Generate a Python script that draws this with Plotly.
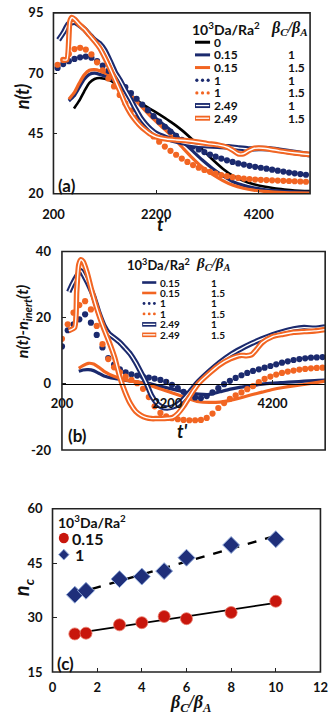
import numpy as np
import plotly.graph_objects as go

W, H = 336, 725
NAVY = "#1b2a6e"
ORANGE = "#f26522"
RED = "#c8160c"
DIAMOND = "#1f2f7a"
FONT = "Lato"
SERIF = "Liberation Serif"

# ---- panel (a): n(t) vs t'
T_BLACK = [600, 700, 800, 900, 1000, 1100, 1300, 1500, 1700, 1900, 2100, 2300, 2500,
           2700, 2900, 3100, 3300, 3500, 3700, 3900, 4100, 4300, 4500, 4700, 4900, 5200]
N_BLACK = [55.4, 58.5, 62.5, 66.0, 67.6, 68.0, 67.0, 64.2, 60.8, 57.6, 55.0, 52.4, 49.6,
           46.4, 42.6, 38.4, 34.2, 30.4, 27.4, 25.4, 24.0, 23.0, 22.3, 21.8, 21.4, 21.1]

T_SOLID_A = [500, 600, 700, 800, 900, 1000, 1100, 1300, 1500, 1700, 1900, 2100, 2300, 2500,
             2700, 2900, 3100, 3300, 3500, 3700, 3900, 4100, 4300, 4500, 4700, 4900, 5200]
N_NAVY_015_A = [58.5, 60.5, 64.0, 67.5, 69.5, 70.0, 69.5, 68.0, 65.0, 61.0, 57.0, 53.0, 49.5, 46.0,
                42.0, 38.0, 34.0, 30.5, 27.5, 25.0, 23.5, 22.5, 21.8, 21.3, 21.0, 20.8, 20.7]
N_ORANGE_015_A = [59.2, 61.8, 65.8, 69.3, 71.2, 71.5, 71.0, 69.0, 65.5, 61.0, 56.5, 52.0, 48.0, 44.0,
                  39.5, 35.0, 31.0, 28.0, 25.5, 23.5, 22.3, 21.5, 21.0, 20.7, 20.5, 20.4, 20.3]

T_DOT_A = [280, 390, 500, 610, 720, 830, 940, 1050, 1160, 1270, 1380, 1490, 1600, 1710, 1820,
           1930, 2040, 2150, 2260, 2370, 2480, 2590, 2700, 2810, 2920, 3030, 3140, 3250, 3360,
           3470, 3580, 3690, 3800, 3910, 4020, 4130, 4240, 4350, 4460, 4570, 4680, 4790, 4900,
           5010, 5120]
N_NAVY_1_A = [72.2, 73.8, 75.0, 75.9, 76.6, 76.9, 76.4, 75.0, 73.2, 71.0, 68.8, 66.5, 64.2, 61.8,
              59.4, 57.0, 54.6, 52.2, 49.9, 47.8, 45.8, 44.0, 42.4, 40.9, 39.6, 38.4, 37.3, 36.3,
              35.4, 34.6, 33.9, 33.2, 32.6, 32.1, 31.6, 31.2, 30.8, 30.4, 30.0, 29.6, 29.2, 28.8,
              28.5, 28.2, 27.9]
N_ORANGE_1_A = [73.5, 75.5, 78.0, 80.0, 80.5, 79.8, 77.8, 74.5, 71.2, 67.8, 64.5, 61.0, 57.5, 54.5,
                51.5, 48.8, 46.2, 43.8, 41.6, 39.6, 37.8, 36.2, 34.6, 33.2, 31.9, 30.8, 29.9, 29.1,
                28.4, 27.8, 27.3, 26.9, 26.6, 26.3, 26.1, 25.9, 25.8, 25.7, 25.6, 25.5, 25.4, 25.3,
                25.2, 25.1, 25.0]

T_NAVY_249_A = [300, 400, 490, 610, 700, 800, 900, 1000, 1100, 1200, 1300, 1400, 1500, 1600, 1700,
                1800, 1900, 2000, 2100, 2200, 2400, 2600, 2800, 3000, 3200, 3400, 3600, 3800, 4000,
                4200, 4400, 4600, 4800, 5000, 5200]
N_NAVY_249_A = [83.8, 87.0, 90.4, 91.1, 90.0, 88.3, 86.0, 83.8, 82.3, 79.5, 75.2, 70.5, 67.0, 63.0,
                59.2, 55.2, 51.5, 48.8, 46.6, 45.0, 43.2, 41.8, 40.8, 40.2, 39.9, 39.7, 39.5, 39.0,
                38.6, 38.8, 38.7, 38.1, 37.4, 36.8, 36.2]
T_ORANGE_249_A = [380, 460, 520, 560, 620, 700, 800, 900, 1000, 1100, 1200, 1300, 1400, 1500, 1600,
                  1700, 1800, 1900, 2000, 2100, 2200, 2400, 2600, 2800, 3000, 3200, 3400, 3600, 3700,
                  3800, 3900, 4000, 4100, 4200, 4400, 4600, 4800, 5000, 5200]
N_ORANGE_249_A = [75.5, 75.6, 91.5, 93.1, 92.2, 90.3, 88.3, 85.8, 83.3, 80.5, 76.5, 72.0, 67.2, 62.3,
                  57.2, 53.3, 50.4, 48.0, 46.2, 44.6, 43.6, 42.7, 42.3, 42.0, 41.5, 40.8, 40.3, 39.2,
                  38.0, 36.6, 36.6, 37.8, 38.8, 39.0, 38.6, 37.8, 37.2, 36.7, 36.3]

# ---- panel (b): n(t) - n_inert(t)
T_SOLID_B = [520, 600, 700, 800, 900, 1000, 1200, 1400, 1600, 1800, 2000, 2200, 2400, 2600,
             2800, 3000, 3200, 3400, 3600, 3800, 4000, 4200, 4400, 4600, 4800, 5000, 5200]
V_NAVY_015_B = [3.8, 4.2, 4.3, 4.0, 3.2, 2.4, 1.6, 1.1, 0.6, 0.3, -0.5, -1.2, -2.0, -2.7,
                -3.1, -3.2, -2.4, -1.6, -1.0, -0.6, -0.1, 0.2, 0.4, 0.6, 0.8, 1.0, 1.1]
V_ORANGE_015_B = [4.7, 5.5, 6.2, 6.0, 5.0, 3.8, 2.2, 1.2, 0.6, 0.0, -1.2, -2.2, -3.3, -4.5,
                  -5.4, -5.6, -5.5, -5.0, -4.2, -3.3, -2.5, -1.7, -1.1, -0.6, -0.2, 0.3, 0.8]

T_DOT_B = [200, 310, 420, 530, 640, 750, 860, 970, 1080, 1190, 1300, 1410, 1520, 1630, 1740,
           1850, 1960, 2070, 2180, 2290, 2400, 2510, 2620, 2730, 2840, 2950, 3060, 3170, 3280,
           3390, 3500, 3610, 3720, 3830, 3940, 4050, 4160, 4270, 4380, 4490, 4600, 4710, 4820,
           4930, 5040, 5150]
V_NAVY_1_B = [11.3, 16.2, 18.0, 19.5, 21.0, 18.5, 14.8, 11.0, 7.8, 5.8, 4.4, 3.5, 2.9, 2.5, 2.2,
              1.9, 1.6, 1.2, 0.6, -0.3, -1.3, -2.4, -3.4, -4.1, -4.3, -3.7, -2.6, -1.3, -0.1, 0.9,
              1.8, 2.6, 3.3, 3.9, 4.4, 4.9, 5.4, 5.9, 6.4, 6.8, 7.2, 7.5, 7.7, 7.9, 8.0, 8.1]
V_ORANGE_1_B = [13.6, 18.0, 21.5, 23.8, 25.0, 22.5, 17.5, 12.0, 7.5, 5.0, 3.5, 2.2, 1.2, 0.2, -1.5,
                -4.0, -6.8, -8.8, -9.8, -10.4, -10.7, -10.9, -11.0, -11.0, -10.9, -10.3, -9.0, -7.3,
                -5.8, -4.5, -3.5, -2.6, -1.6, -0.7, 0.5, 1.5, 2.2, 2.8, 3.3, 3.7, 4.0, 4.3, 4.5, 4.7,
                4.8, 4.9]

T_NAVY_249_B = [330, 400, 480, 560, 640, 720, 800, 900, 1000, 1100, 1200, 1300, 1400, 1500, 1600,
                1700, 1800, 1900, 2000, 2100, 2200, 2300, 2400, 2500, 2600, 2700, 2800, 3000, 3200,
                3400, 3600, 3800, 4000, 4200, 4400, 4600, 4800, 5000, 5200]
V_NAVY_249_B = [27.8, 30.2, 32.5, 34.2, 32.0, 29.5, 26.5, 21.5, 17.5, 15.0, 13.8, 12.5, 10.8, 9.0,
                6.5, 3.5, 0.3, -3.5, -5.8, -7.0, -7.3, -7.0, -6.2, -4.8, -3.0, -1.0, 0.8, 3.8, 6.5,
                8.8, 10.6, 12.2, 13.6, 14.8, 15.8, 16.6, 17.0, 16.8, 17.2]
T_ORANGE_249_B = [330, 440, 480, 520, 560, 600, 680, 760, 840, 920, 1000, 1100, 1200, 1300, 1400,
                  1500, 1600, 1700, 1800, 1900, 2000, 2100, 2200, 2300, 2400, 2500, 2600, 2700, 2800,
                  3000, 3200, 3400, 3600, 3700, 3800, 3900, 4000, 4200, 4400, 4600, 4800, 5000, 5200]
V_ORANGE_249_B = [16.1, 17.0, 28.0, 36.0, 37.5, 37.0, 33.5, 28.5, 24.0, 20.0, 16.5, 12.5, 8.0, 2.0,
                  -2.5, -6.0, -8.3, -9.5, -10.2, -10.5, -10.5, -10.5, -10.4, -10.2, -9.0, -7.0, -4.5,
                  -2.0, 0.2, 3.2, 5.8, 7.6, 8.6, 8.5, 8.8, 10.5, 12.4, 14.3, 15.0, 15.6, 15.8, 16.0,
                  16.4]

# ---- panel (c): n_c vs beta_C/beta_A
RATIO = [1, 1.5, 3, 4, 5, 6, 8, 10]
NC_015 = [25.5, 25.7, 28.0, 28.6, 30.3, 29.7, 31.4, 34.5]
NC_1 = [36.3, 37.4, 40.6, 41.3, 42.8, 46.5, 50.0, 51.6]

X_TICKS_T = [200, 2200, 4200]
LEGEND_A = [("0", ""), ("0.15", "1"), ("0.15", "1.5"), ("1", "1"), ("1", "1.5"),
            ("2.49", "1"), ("2.49", "1.5")]


def px(x):
    return x / W


def py(y):
    return 1 - y / H


def box(left, top, right, bottom):
    return [px(left), px(right)], [py(bottom), py(top)]


fig = go.Figure()


def solid(x, y, color, width, ax):
    fig.add_trace(go.Scatter(x=x, y=y, mode="lines", xaxis="x" + ax, yaxis="y" + ax,
                             line=dict(color=color, width=width, shape="spline", smoothing=0.6),
                             hoverinfo="skip"))


def double(x, y, color, ax):
    solid(x, y, color, 5.5, ax)
    solid(x, y, "white", 1.4, ax)


def dots(x, y, color, ax):
    fig.add_trace(go.Scatter(x=x, y=y, mode="markers", xaxis="x" + ax, yaxis="y" + ax,
                             marker=dict(color=color, size=6.2), hoverinfo="skip"))


# panel (a)
solid(T_BLACK, N_BLACK, "black", 2.6, "")
solid(T_SOLID_A, N_NAVY_015_A, NAVY, 3.2, "")
solid(T_SOLID_A, N_ORANGE_015_A, ORANGE, 3.2, "")
dots(T_DOT_A, N_NAVY_1_A, NAVY, "")
dots(T_DOT_A, N_ORANGE_1_A, ORANGE, "")
double(T_NAVY_249_A, N_NAVY_249_A, NAVY, "")
double(T_ORANGE_249_A, N_ORANGE_249_A, ORANGE, "")

# panel (b)
solid(T_SOLID_B, V_NAVY_015_B, NAVY, 3.2, "2")
solid(T_SOLID_B, V_ORANGE_015_B, ORANGE, 3.2, "2")
dots(T_DOT_B, V_NAVY_1_B, NAVY, "2")
dots(T_DOT_B, V_ORANGE_1_B, ORANGE, "2")
double(T_NAVY_249_B, V_NAVY_249_B, NAVY, "2")
double(T_ORANGE_249_B, V_ORANGE_249_B, ORANGE, "2")

# panel (c) with linear trendlines
fit_x = np.array([RATIO[0], RATIO[-1]])
for vals, dash in ((NC_015, "solid"), (NC_1, "dash")):
    k, b = np.polyfit(RATIO, vals, 1)
    fig.add_trace(go.Scatter(x=fit_x, y=k * fit_x + b, mode="lines", xaxis="x3", yaxis="y3",
                             line=dict(color="black", width=2.5 if dash == "dash" else 1.8, dash=dash),
                             hoverinfo="skip"))
fig.add_trace(go.Scatter(x=RATIO, y=NC_015, mode="markers", xaxis="x3", yaxis="y3",
                         marker=dict(color=RED, size=12, line=dict(color="#e87a6a", width=0.8))))
fig.add_trace(go.Scatter(x=RATIO, y=NC_1, mode="markers", xaxis="x3", yaxis="y3",
                         marker=dict(symbol="diamond", color=DIAMOND, size=13,
                                     line=dict(color="#8fa8d8", width=1))))

tickfont = dict(family=FONT, size=13, color="#111", weight="bold")
axis_common = dict(showgrid=False, zeroline=False, showline=False, ticks="inside", ticklen=4,
                   tickcolor="#222", tickfont=tickfont)
x_common = dict(axis_common, ticklabeloverflow="allow")

xa, ya = box(45, 5, 317, 190)
xb, yb = box(54, 249, 333, 452)
xc, yc = box(44, 512, 328, 679)
zero_b = yb[0] + (yb[1] - yb[0]) * 20 / 60

fig.update_layout(
    width=W, height=H, margin=dict(l=0, r=0, t=0, b=0),
    paper_bgcolor="white", plot_bgcolor="white", showlegend=False,
    font=dict(family=FONT),
    xaxis=dict(domain=xa, range=[200, 5200], tickvals=X_TICKS_T, anchor="y",
               ticklabelstandoff=11, **x_common),
    yaxis=dict(domain=ya, range=[20, 95], tickvals=[20, 45, 70, 95], anchor="x",
               ticklabelstandoff=9, **axis_common),
    xaxis2=dict(domain=xb, range=[200, 5200], tickvals=X_TICKS_T, anchor="free", position=zero_b,
                ticklabelstandoff=8, **{**x_common, "showline": True, "linecolor": "black",
                                        "linewidth": 1}),
    yaxis2=dict(domain=yb, range=[-20, 40], tickvals=[-20, 0, 20, 40],
                ticktext=["-20", "0", "20", "40"], anchor="x2", ticklabelstandoff=10, **axis_common),
    xaxis3=dict(domain=xc, range=[0, 12], dtick=2, anchor="y3", ticklabelstandoff=6, **x_common),
    yaxis3=dict(domain=yc, range=[15, 60], dtick=15, anchor="x3", ticklabelstandoff=9, **axis_common),
)

shapes = []
for ax in ("", "2", "3"):
    shapes.append(dict(type="rect", xref="x%s domain" % ax, yref="y%s domain" % ax,
                       x0=0, x1=1, y0=0, y1=1, line=dict(color="#222", width=1.6)))


def seg(x0, x1, y, color, width):
    shapes.append(dict(type="line", xref="paper", yref="paper", x0=px(x0), x1=px(x1),
                       y0=py(y), y1=py(y), line=dict(color=color, width=width)))


def dot(x, y, r, color):
    shapes.append(dict(type="circle", xref="paper", yref="paper", x0=px(x - r), x1=px(x + r),
                       y0=py(y + r), y1=py(y - r), fillcolor=color, line=dict(width=0)))


annotations = []


def text(s, x, y, size, anchor="center", angle=0, family=FONT, color="#111"):
    annotations.append(dict(text=s, x=px(x), y=py(y), xref="paper", yref="paper",
                            xanchor=anchor, yanchor="middle", showarrow=False, textangle=angle,
                            font=dict(family=family, size=size, color=color)))


STYLES = [("black", "solid"), (NAVY, "solid"), (ORANGE, "solid"), (NAVY, "dot"),
          (ORANGE, "dot"), (NAVY, "double"), (ORANGE, "double")]


def swatch(style, x0, x1, y, lw, r):
    color, kind = style
    if kind == "solid":
        seg(x0, x1, y, color, lw)
    elif kind == "double":
        seg(x0, x1, y, color, lw + 2)
        seg(x0 + 1, x1 - 1, y, "white", 1.3)
    else:
        for i in range(3):
            dot(x0 + 2 + i * (x1 - x0 - 4) / 2, y, r, color)


# legend (a)
text("<b>10<sup>3</sup>Da/Ra<sup>2</sup></b>", 228, 21, 14)
text("<b><i>β<sub>C</sub>/β<sub>A</sub></i></b>", 295, 21, 16, family=SERIF)
for i, ((lab, ratio), style) in enumerate(zip(LEGEND_A, STYLES)):
    y = 35 + i * 12.95
    swatch(style, 195, 211, y, 3, 1.7)
    text("<b>%s</b>" % lab, 213, y, 12, anchor="left")
    if ratio:
        text("<b>%s</b>" % ratio, 292, y, 12, anchor="left")

# legend (b)
text("<b>10<sup>3</sup>Da/Ra<sup>2</sup></b>", 156, 262, 13)
text("<b><i>β<sub>C</sub>/β<sub>A</sub></i></b>", 215, 262, 15, family=SERIF)
for i, ((lab, ratio), style) in enumerate(zip(LEGEND_A[1:], STYLES[1:])):
    y = 280.7 + i * 10.7
    swatch(style, 139, 154, y, 2.6, 1.5)
    text("<b>%s</b>" % lab, 155.5, y, 10, anchor="left")
    text("<b>%s</b>" % ratio, 209.5, y, 10, anchor="left")

# legend (c)
text("<b>10<sup>3</sup>Da/Ra<sup>2</sup></b>", 48, 525, 14, anchor="left")
dot(56, 542, 5.3, RED)
text("<b>0.15</b>", 63, 542, 16, anchor="left")
shapes.append(dict(type="path", xref="paper", yref="paper", fillcolor=DIAMOND,
                   line=dict(color="#8fa8d8", width=1),
                   path="M %f %f L %f %f L %f %f L %f %f Z" % (
                       px(56), py(553.5), px(61.5), py(559), px(56), py(564.5), px(50.5), py(559))))
text("<b>1</b>", 66, 559, 16, anchor="left")

# axis titles and panel labels
text("<b><i>n(t)</i></b>", 12, 90, 18, angle=-90)
text("<b><i>t'</i></b>", 161, 221, 18)
text("<b>(a)</b>", 59, 182, 17)
text("<b><i>n(t)-n<sub>inert</sub>(t)</i></b>", 13, 321, 16, angle=-90)
text("<b><i>t'</i></b>", 182, 433, 18)
text("<b>(b)</b>", 70, 437, 17)
text("<b><i>n<sub>c</sub></i></b>", 13, 592, 20, angle=-90)
text("<b><i>β<sub>C</sub>/β<sub>A</sub></i></b>", 190, 711, 18, family=SERIF)
text("<b>(c)</b>", 58, 670, 17)

fig.update_layout(shapes=shapes, annotations=annotations)
# the page body has a default 8px margin; remove it so the figure fills the window
fig.write_html("out.html", config={"displayModeBar": False},
               post_script="document.body.style.margin='0px';")
